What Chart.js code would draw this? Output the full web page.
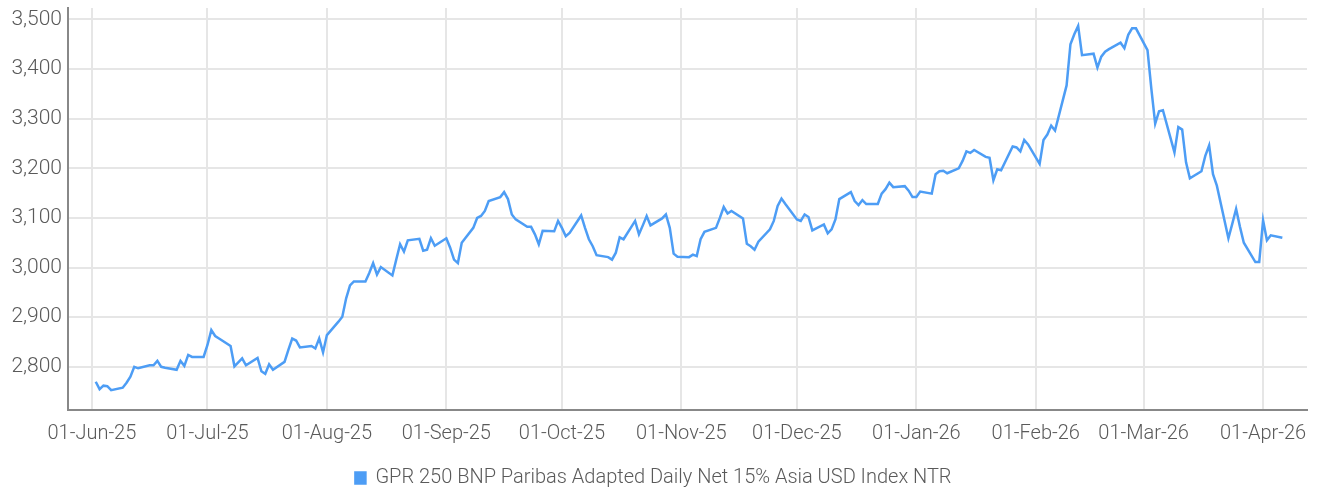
<!DOCTYPE html>
<html>
<head>
<meta charset="utf-8">
<script src="https://cdn.jsdelivr.net/npm/chart.js@4/dist/chart.umd.min.js"></script>
<style>
  body { margin: 0; background: #fff; }
  #wrap { width: 1321px; height: 493px; position: relative; }
</style>
</head>
<body>
<div id="wrap"><canvas id="grafico"></canvas></div>
<script>
// ========== DATA ==========
const seriesName = 'GPR 250 BNP Paribas Adapted Daily Net 15% Asia USD Index NTR';

const dates = [
  '2025-06-02','2025-06-03','2025-06-04','2025-06-05','2025-06-06','2025-06-09','2025-06-10','2025-06-11','2025-06-12','2025-06-13',
  '2025-06-16','2025-06-17','2025-06-18','2025-06-19','2025-06-20','2025-06-23','2025-06-24','2025-06-25','2025-06-26','2025-06-27',
  '2025-06-30','2025-07-01','2025-07-02','2025-07-03','2025-07-04','2025-07-07','2025-07-08','2025-07-09','2025-07-10','2025-07-11',
  '2025-07-14','2025-07-15','2025-07-16','2025-07-17','2025-07-18','2025-07-21','2025-07-22','2025-07-23','2025-07-24','2025-07-25',
  '2025-07-28','2025-07-29','2025-07-30','2025-07-31','2025-08-01','2025-08-04','2025-08-05','2025-08-06','2025-08-07','2025-08-08',
  '2025-08-11','2025-08-12','2025-08-13','2025-08-14','2025-08-15','2025-08-18','2025-08-19','2025-08-20','2025-08-21','2025-08-22',
  '2025-08-25','2025-08-26','2025-08-27','2025-08-28','2025-08-29','2025-09-01','2025-09-02','2025-09-03','2025-09-04','2025-09-05',
  '2025-09-08','2025-09-09','2025-09-10','2025-09-11','2025-09-12','2025-09-15','2025-09-16','2025-09-17','2025-09-18','2025-09-19',
  '2025-09-22','2025-09-23','2025-09-24','2025-09-25','2025-09-26','2025-09-29','2025-09-30','2025-10-01','2025-10-02','2025-10-03',
  '2025-10-06','2025-10-07','2025-10-08','2025-10-09','2025-10-10','2025-10-13','2025-10-14','2025-10-15','2025-10-16','2025-10-17',
  '2025-10-20','2025-10-21','2025-10-22','2025-10-23','2025-10-24','2025-10-27','2025-10-28','2025-10-29','2025-10-30','2025-10-31',
  '2025-11-03','2025-11-04','2025-11-05','2025-11-06','2025-11-07','2025-11-10','2025-11-11','2025-11-12','2025-11-13','2025-11-14',
  '2025-11-17','2025-11-18','2025-11-19','2025-11-20','2025-11-21','2025-11-24','2025-11-25','2025-11-26','2025-11-27','2025-11-28',
  '2025-12-01','2025-12-02','2025-12-03','2025-12-04','2025-12-05','2025-12-08','2025-12-09','2025-12-10','2025-12-11','2025-12-12',
  '2025-12-15','2025-12-16','2025-12-17','2025-12-18','2025-12-19','2025-12-22','2025-12-23','2025-12-24','2025-12-25','2025-12-26',
  '2025-12-29','2025-12-30','2025-12-31','2026-01-01','2026-01-02','2026-01-05','2026-01-06','2026-01-07','2026-01-08','2026-01-09',
  '2026-01-12','2026-01-13','2026-01-14','2026-01-15','2026-01-16','2026-01-19','2026-01-20','2026-01-21','2026-01-22','2026-01-23',
  '2026-01-26','2026-01-27','2026-01-28','2026-01-29','2026-01-30','2026-02-02','2026-02-03','2026-02-04','2026-02-05','2026-02-06',
  '2026-02-09','2026-02-10','2026-02-11','2026-02-12','2026-02-13','2026-02-16','2026-02-17','2026-02-18','2026-02-19','2026-02-20',
  '2026-02-23','2026-02-24','2026-02-25','2026-02-26','2026-02-27','2026-03-02','2026-03-03','2026-03-04','2026-03-05','2026-03-06',
  '2026-03-09','2026-03-10','2026-03-11','2026-03-12','2026-03-13','2026-03-16','2026-03-17','2026-03-18','2026-03-19','2026-03-20',
  '2026-03-23','2026-03-24','2026-03-25','2026-03-26','2026-03-27','2026-03-30','2026-03-31','2026-04-01','2026-04-02','2026-04-03',
  '2026-04-06'
];

const valores = [
  2770,2755,2762,2761,2753,2758,2768,2780,2800,2797,
  2803,2803,2812,2800,2798,2794,2812,2802,2824,2820,
  2820,2844,2874,2862,2857,2842,2801,2809,2817,2803,
  2818,2791,2786,2805,2794,2810,2834,2857,2853,2839,
  2842,2837,2857,2829,2864,2891,2901,2938,2964,2972,
  2972,2989,3009,2986,3001,2984,3016,3047,3032,3055,
  3058,3034,3036,3059,3044,3059,3040,3016,3009,3050,
  3080,3100,3104,3114,3134,3142,3152,3138,3107,3097,
  3082,3082,3067,3047,3074,3073,3094,3080,3063,3070,
  3105,3080,3057,3043,3025,3021,3016,3030,3061,3057,
  3094,3067,3085,3104,3085,3099,3107,3080,3028,3022,
  3021,3026,3023,3057,3072,3080,3100,3122,3109,3114,
  3099,3048,3043,3036,3052,3077,3094,3124,3139,3128,
  3097,3094,3107,3102,3075,3087,3069,3077,3097,3138,
  3152,3134,3126,3136,3128,3128,3149,3158,3171,3162,
  3164,3155,3142,3142,3153,3149,3188,3194,3195,3190,
  3200,3215,3234,3231,3237,3223,3221,3176,3198,3196,
  3244,3242,3234,3257,3248,3209,3257,3268,3286,3276,
  3367,3450,3470,3487,3428,3431,3403,3425,3435,3440,
  3453,3442,3469,3482,3482,3438,3360,3290,3315,3317,
  3232,3283,3278,3212,3180,3194,3225,3246,3188,3165,
  3059,3088,3118,3082,3050,3011,3011,3095,3055,3065,
  3060
];

const xTickDates = ['2025-06-01','2025-07-01','2025-08-01','2025-09-01','2025-10-01','2025-11-01',
                    '2025-12-01','2026-01-01','2026-02-01','2026-03-01','2026-04-01'];
const xTickLabels = ['01-Jun-25','01-Jul-25','01-Aug-25','01-Sep-25','01-Oct-25','01-Nov-25',
                     '01-Dec-25','01-Jan-26','01-Feb-26','01-Mar-26','01-Apr-26'];
const yTicks = [2800, 2900, 3000, 3100, 3200, 3300, 3400, 3500];

// ========== HELPERS ==========
const base = Date.UTC(2025, 5, 1);
function dia(s) {
  const p = s.split('-').map(Number);
  return (Date.UTC(p[0], p[1] - 1, p[2]) - base) / 86400000;
}

const pontos = dates.map((d, i) => ({ x: dia(d), y: valores[i] }));
const tickDias = xTickDates.map(dia);

const fonte = "Roboto, 'Liberation Sans', sans-serif";
const corTexto = '#5a5a5a';

new Chart(document.getElementById('grafico'), {
  type: 'line',
  data: {
    datasets: [{
      label: seriesName,
      data: pontos,
      borderColor: '#4d9df5',
      backgroundColor: '#4d9df5',
      borderWidth: 2.5,
      pointRadius: 0,
      tension: 0
    }]
  },
  options: {
    responsive: true,
    maintainAspectRatio: false,
    animation: false,
    layout: { padding: { top: 8, right: 14, left: 0, bottom: -5 } },
    plugins: {
      tooltip: { enabled: false },
      legend: {
        position: 'bottom',
        labels: {
          boxWidth: 10,
          boxHeight: 11,
          padding: 7,
          color: corTexto,
          font: { family: fonte, size: 20, weight: '300' }
        }
      }
    },
    scales: {
      x: {
        type: 'linear',
        min: -6.2,
        max: 315.4,
        afterBuildTicks: s => { s.ticks = tickDias.map(v => ({ value: v })); },
        afterFit: s => { s.height = 51; s.paddingLeft = 0; s.paddingRight = 0; },
        ticks: {
          autoSkip: false,
          maxRotation: 0,
          padding: 12,
          color: corTexto,
          font: { family: fonte, size: 20, weight: '300' },
          callback: v => xTickLabels[tickDias.indexOf(v)]
        },
        grid: { color: '#e6e6e6', lineWidth: 2, drawTicks: false },
        border: { color: '#888888', width: 2 }
      },
      y: {
        min: 2713,
        max: 3523,
        afterBuildTicks: s => { s.ticks = yTicks.map(v => ({ value: v })); },
        afterFit: s => { s.width = 68; s.paddingTop = 0; s.paddingBottom = 0; },
        ticks: {
          padding: 6,
          color: corTexto,
          font: { family: fonte, size: 21, weight: '300' },
          callback: v => v.toLocaleString('en-US')
        },
        grid: { color: '#e6e6e6', lineWidth: 2, drawTicks: false },
        border: { color: '#888888', width: 2 }
      }
    }
  }
});
</script>
</body>
</html>
